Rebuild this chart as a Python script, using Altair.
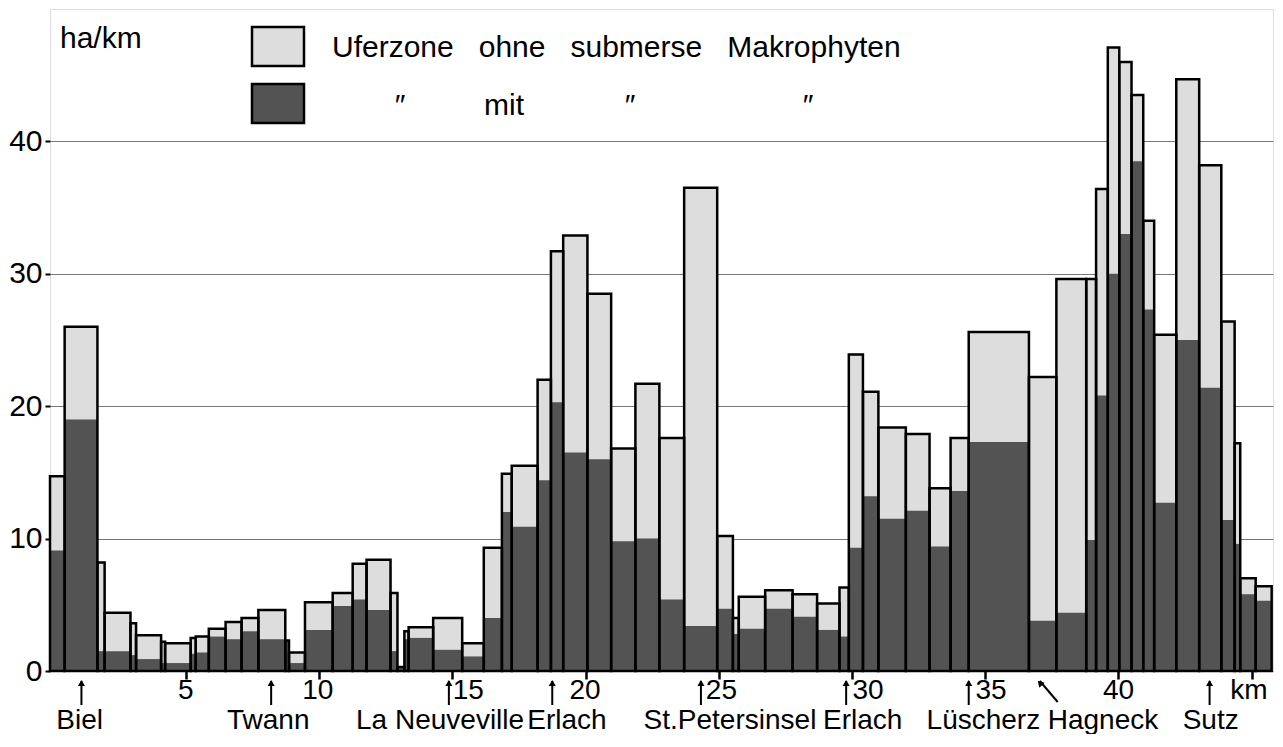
import altair as alt
import pandas as pd

FONT = "Liberation Sans"
LIGHT = "#dddddd"
DARK = "#535353"
NB = "\u00a0"

# bar sections along the shore (km)
km_start = [-0.1, 0.45, 1.68, 1.95, 2.92, 3.13, 4.07, 4.22, 5.18, 5.37, 5.86, 6.49, 7.09, 7.72, 8.73,
            8.87, 9.47, 10.51, 11.26, 11.78, 12.68, 12.94, 13.20, 13.36, 14.28, 15.37, 16.18, 16.86,
            17.23, 18.20, 18.70, 19.16, 20.07, 20.96, 21.87, 22.77, 23.70, 24.94, 25.53, 25.75,
            26.74, 27.77, 28.69, 29.53, 29.88, 30.41, 30.99, 32.02, 32.91, 33.70, 34.38, 36.64,
            37.67, 38.79, 39.16, 39.60, 40.03, 40.49, 40.93, 41.34, 42.17, 43.03, 43.86, 44.36,
            44.57, 45.15]
km_end = km_start[1:] + [45.75]
# total shore zone (ha/km)
total = [14.7, 26.0, 8.2, 4.4, 3.6, 2.7, 2.2, 2.1, 2.5, 2.6, 3.2, 3.7, 4.0, 4.6, 2.3,
         1.4, 5.2, 5.9, 8.1, 8.4, 5.9, 0.3, 3.0, 3.3, 4.0, 2.1, 9.3, 14.9,
         15.5, 22.0, 31.7, 32.9, 28.5, 16.8, 21.7, 17.6, 36.5, 10.2, 4.0, 5.6,
         6.1, 5.8, 5.1, 6.3, 23.9, 21.1, 18.4, 17.9, 13.8, 17.6, 25.6, 22.2,
         29.6, 29.6, 36.4, 47.1, 46.0, 43.5, 34.0, 25.4, 44.7, 38.2, 26.4, 17.2,
         7.0, 6.4]
# part with submerged macrophytes (ha/km)
with_macro = [9.1, 19.0, 1.5, 1.5, 1.2, 0.9, 0.6, 0.6, 1.3, 1.4, 2.6, 2.4, 3.0, 2.4, 2.3,
              0.6, 3.1, 4.9, 5.4, 4.6, 1.5, 0.3, 2.4, 2.5, 1.6, 1.1, 4.0, 12.0,
              10.9, 14.4, 20.3, 16.5, 16.0, 9.8, 10.0, 5.4, 3.4, 4.7, 2.8, 3.2,
              4.7, 4.1, 3.1, 2.6, 9.3, 13.2, 11.5, 12.1, 9.4, 13.6, 17.3, 3.8,
              4.4, 9.9, 20.8, 30.0, 33.0, 38.5, 27.3, 12.7, 25.0, 21.4, 11.4, 9.6,
              5.8, 5.3]

tick_values = [5, 10, 15, 20, 25, 30, 35, 40, 45]
y_values = [0, 10, 20, 30, 40]

num_labels = ["5", "10", "15", "20", "25", "30", "35", "40", "km"]
num_pos = [5.0, 9.95, 15.60, 19.98, 25.10, 30.60, 35.22, 40.0, 44.9]
# location arrows (vertical) and the slanted Hagneck arrow
arrow_pos = [1.08, 8.20, 14.87, 18.75, 24.33, 29.78, 34.38, 43.42]
diag_head = [37.05]
diag_tail = [37.72]
place_labels = ["Biel", "Twann", "La Neuveville", "Erlach", "St.Petersinsel", "Erlach",
                "Lüscherz", "Hagneck", "Sutz"]
place_pos = [1.01, 8.09, 14.54, 19.30, 25.42, 30.40, 34.93, 39.42, 43.46]

bars = pd.DataFrame({"start": km_start, "end": km_end, "total": total, "dark": with_macro})
bars["zero"] = 0.0

xsc = alt.Scale(domain=[-0.1, 45.8], nice=False, zero=False)
ysc = alt.Scale(domain=[0, 50], nice=False)

xaxis = alt.Axis(values=tick_values, labels=False, tickSize=8, tickWidth=2.5, tickColor="black",
                 domain=False, grid=False, title=None)
yaxis = alt.Axis(values=y_values, grid=True, gridColor="#777777", gridWidth=1.2,
                 labelFontSize=30, labelFont=FONT, labelColor="black", labelPadding=3,
                 tickSize=5, tickWidth=2, tickColor="black", domain=False, title=None)

light = alt.Chart(bars).mark_rect(fill=LIGHT).encode(
    x=alt.X("start:Q", scale=xsc, axis=xaxis),
    x2="end:Q",
    y=alt.Y("zero:Q", scale=ysc, axis=yaxis),
    y2="total:Q",
)
dark = alt.Chart(bars).mark_rect(fill=DARK).encode(
    x=alt.X("start:Q"), x2="end:Q", y=alt.Y("zero:Q"), y2="dark:Q"
)
outline = alt.Chart(bars).mark_rect(fillOpacity=0, stroke="black", strokeWidth=2.5).encode(
    x=alt.X("start:Q"), x2="end:Q", y=alt.Y("zero:Q"), y2="total:Q"
)

nums = pd.DataFrame({"pos": num_pos, "label": num_labels})
arrows = pd.DataFrame({"pos": arrow_pos})
diag = pd.DataFrame({"head": diag_head, "tail": diag_tail})
places = pd.DataFrame({"pos": place_pos, "label": place_labels})

num_text = alt.Chart(nums).mark_text(font=FONT, fontSize=28, baseline="alphabetic",
                                     align="center", color="black").encode(
    x=alt.X("pos:Q"), y=alt.value(690), text="label:N")

arrow_shaft = alt.Chart(arrows).mark_rule(color="black", strokeWidth=2).encode(
    x=alt.X("pos:Q"), y=alt.value(672), y2=alt.value(696))
arrow_head = alt.Chart(arrows).mark_point(shape="triangle-up", filled=True, color="black",
                                          size=50, opacity=1).encode(
    x=alt.X("pos:Q"), y=alt.value(674))
diag_shaft = alt.Chart(diag).mark_rule(color="black", strokeWidth=2).encode(
    x=alt.X("head:Q"), x2="tail:Q", y=alt.value(672), y2=alt.value(693))
diag_headmark = alt.Chart(diag).mark_point(shape="triangle-up", filled=True, color="black",
                                           size=50, opacity=1, angle=317).encode(
    x=alt.X("head:Q"), y=alt.value(674))

place_text = alt.Chart(places).mark_text(font=FONT, fontSize=28, baseline="alphabetic",
                                         align="center", color="black").encode(
    x=alt.X("pos:Q"), y=alt.value(720), text="label:N")

# legend (inside the plot, top left)
leg_box = pd.DataFrame({"fill": ["ohne", "mit"], "y0": [18, 75], "y1": [57, 114]})
legend_boxes = alt.Chart(leg_box).mark_rect(stroke="black", strokeWidth=2.5).encode(
    x=alt.value(202), x2=alt.value(254),
    y=alt.Y("y0:Q", scale=None), y2=alt.Y2("y1:Q"),
    fill=alt.Fill("fill:N", scale=alt.Scale(domain=["ohne", "mit"], range=[LIGHT, DARK]),
                  legend=None),
)
gap = NB * 2 + " "
leg_text = pd.DataFrame({
    "label": ["ha/km", "Uferzone" + gap + "ohne" + gap + "submerse" + gap + "Makrophyten",
              "″", "mit", "″", "″"],
    "x": [10, 282, 350, 454, 580, 758],
    "y": [30, 39, 97, 97, 97, 97],
    "align": ["left", "left", "center", "center", "center", "center"],
})
legend_text_left = alt.Chart(leg_text[leg_text["align"] == "left"]).mark_text(
    font=FONT, fontSize=30, baseline="middle", align="left", color="black").encode(
    x=alt.X("x:Q", scale=None), y=alt.Y("y:Q", scale=None), text="label:N")
legend_text_center = alt.Chart(leg_text[leg_text["align"] == "center"]).mark_text(
    font=FONT, fontSize=30, baseline="middle", align="center", color="black").encode(
    x=alt.X("x:Q", scale=None), y=alt.Y("y:Q", scale=None), text="label:N")

chart = alt.layer(
    light, dark, outline, num_text, arrow_shaft, arrow_head, diag_shaft, diag_headmark,
    place_text, legend_boxes, legend_text_left, legend_text_center
).properties(
    width=1223, height=662,
    padding={"left": 42, "top": 1, "right": 2, "bottom": 63},
    autosize=alt.AutoSizeParams(type="none"),
).configure_view(
    stroke="black", strokeWidth=3
).configure(font=FONT)

chart.save("out.html", embed_options={"renderer": "svg", "actions": False})
